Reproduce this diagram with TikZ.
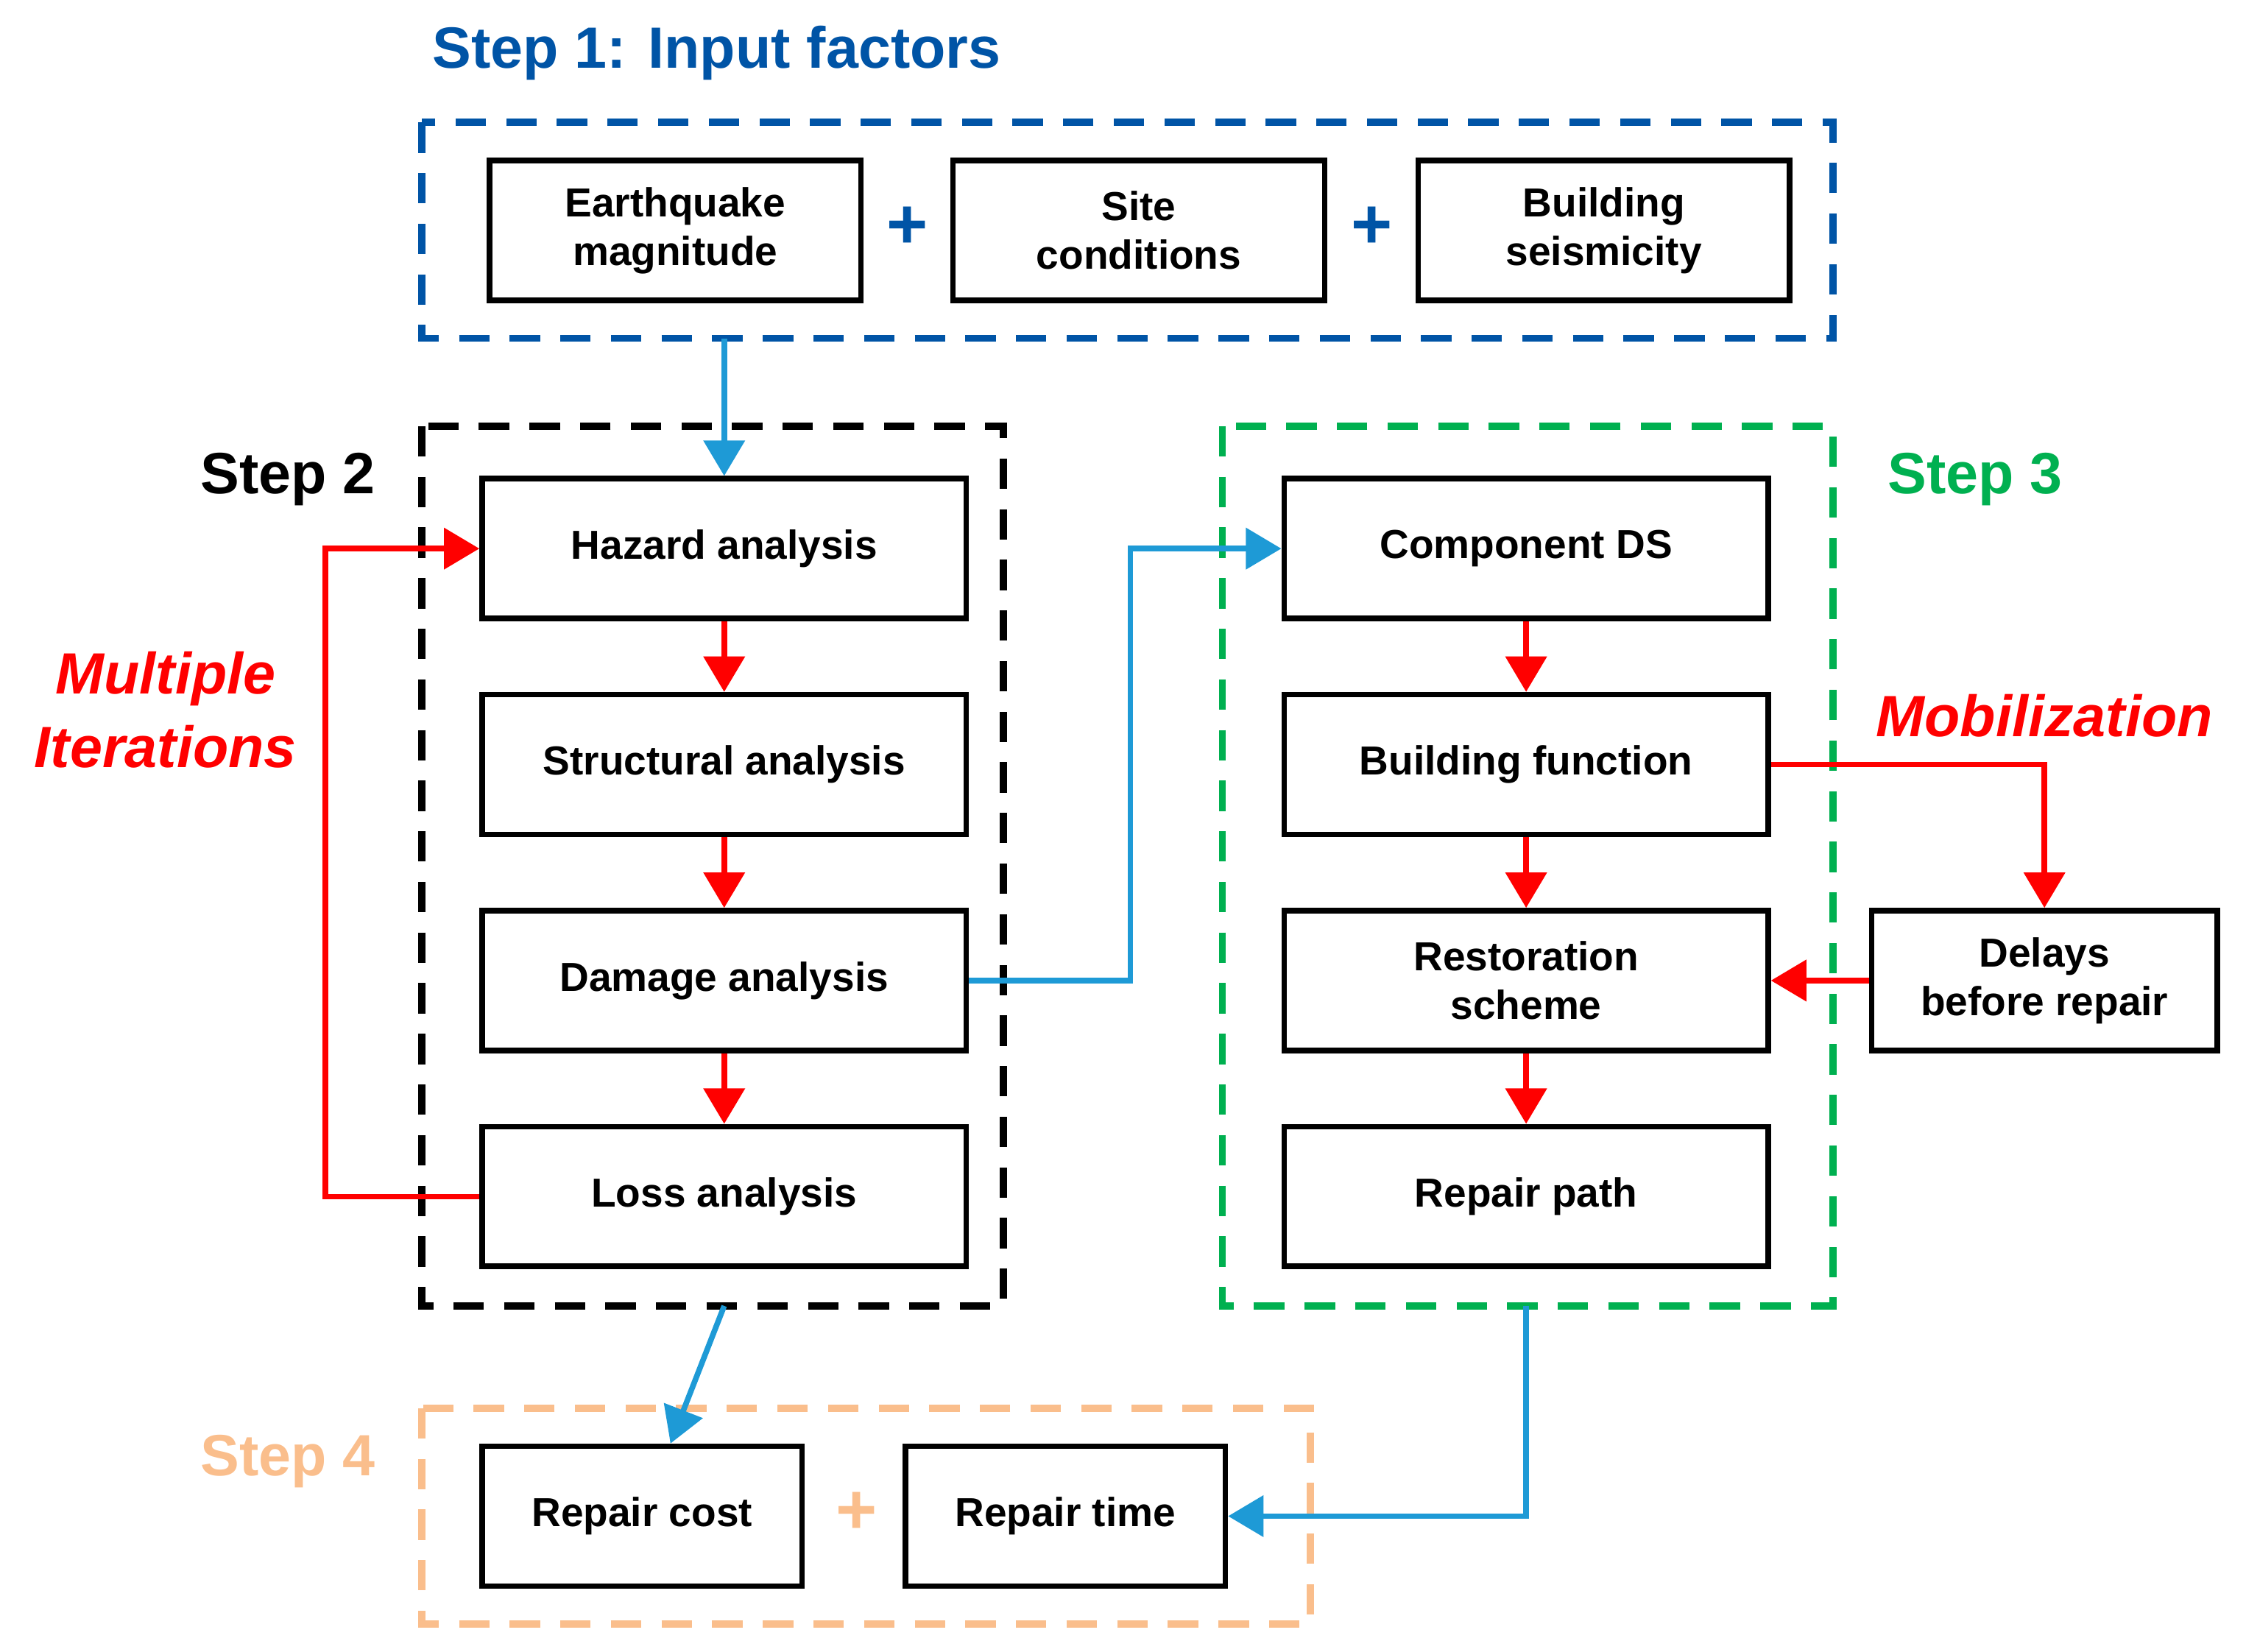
\documentclass[tikz,border=0pt]{standalone}
\usepackage{fontspec}
\setmainfont{Liberation Sans}
\usetikzlibrary{positioning, arrows.meta}
\definecolor{stepblue}{RGB}{0,84,166}
\definecolor{arrblue}{RGB}{30,154,214}
\definecolor{stepgreen}{RGB}{0,176,80}
\definecolor{steporange}{RGB}{250,190,140}
\tikzset{
  box/.style={draw, line width=1.1pt, align=center, font=\bfseries\fontsize{8}{9.6}\selectfont,
    minimum height=0.97cm, inner sep=0pt},
  wide/.style={box, minimum width=3.36cm},
  frame/.style={dashed, line width=1.4pt, dash pattern=on 6pt off 4pt},
  steplbl/.style={font=\bfseries\fontsize{11.5}{13}\selectfont},
  redarr/.style={red, line width=1.1pt, -{Triangle[length=7pt,width=8pt]}},
  bluearr/.style={arrblue, line width=1.1pt, -{Triangle[length=7pt,width=8pt]}},
  plus/.style={font=\bfseries\fontsize{14}{14}\selectfont}
}
\begin{document}
\begin{tikzpicture}[x=0.01cm, y=-0.01cm]
\useasboundingbox (0,0) rectangle (1560,1147);

% step 1
\node[steplbl, stepblue, anchor=west] (s1) at (288,37) {Step 1: Input factors};
\draw[frame, stepblue] (293,85) rectangle (1273,235);
\node[box, minimum width=2.58cm] (eq) at (469,160) {Earthquake\\magnitude};
\node[box, minimum width=2.58cm] (site) at (791,160) {Site\\conditions};
\node[box, minimum width=2.58cm] (bs) at (1114,160) {Building\\seismicity};
\node[plus, stepblue] (p1) at (630,158) {+};
\node[plus, stepblue] (p2) at (953,158) {+};

% step 2
\draw[frame, black] (293,296) rectangle (697,907);
\node[steplbl, anchor=east] (s2) at (273,333) {Step 2};
\node[wide] (haz) at (503,381) {Hazard analysis};
\node[wide] (str) at (503,531) {Structural analysis};
\node[wide] (dam) at (503,681) {Damage analysis};
\node[wide] (loss) at (503,831) {Loss analysis};
\node[red, font=\bfseries\itshape\fontsize{11.5}{14.5}\selectfont, align=center] (mi) at (115,493) {Multiple\\Iterations};

% step 3
\draw[frame, stepgreen] (849,296) rectangle (1273,907);
\node[steplbl, stepgreen] (s3) at (1372,333) {Step 3};
\node[wide] (cds) at (1060,381) {Component DS};
\node[wide] (bf) at (1060,531) {Building function};
\node[wide] (rs) at (1060,681) {Restoration\\scheme};
\node[wide] (rp) at (1060,831) {Repair path};
\node[box, minimum width=2.40cm] (del) at (1420,681) {Delays\\before repair};
\node[red, font=\bfseries\itshape\fontsize{11.5}{13}\selectfont] (mob) at (1420,497) {Mobilization};

% step 4
\draw[frame, steporange] (293,978) rectangle (910,1128);
\node[steplbl, steporange, anchor=east] (s4) at (273,1015) {Step 4};
\node[box, minimum width=2.22cm] (rc) at (446,1053) {Repair cost};
\node[box, minimum width=2.22cm] (rt) at (740,1053) {Repair time};
\node[plus, steporange] (p3) at (595,1051) {+};

% connectors
\coordinate (s1b) at (503,235);
\coordinate (s2b) at (503,907);
\coordinate (s3b) at (1060,907);
\draw[bluearr] (s1b) -- (haz);
\draw[bluearr] (dam.east) -- ++(112,0) |- (cds.west);
\draw[bluearr] (s2b) -- (rc);
\draw[bluearr] (s3b) |- (rt.east);
\foreach \a/\b in {haz/str, str/dam, dam/loss, cds/bf, bf/rs, rs/rp}
  \draw[redarr] (\a) -- (\b);
\draw[redarr] (loss.west) -- ++(-107,0) |- (haz.west);
\draw[redarr] (bf.east) -| (del.north);
\draw[redarr] (del) -- (rs);
\end{tikzpicture}
\end{document}
